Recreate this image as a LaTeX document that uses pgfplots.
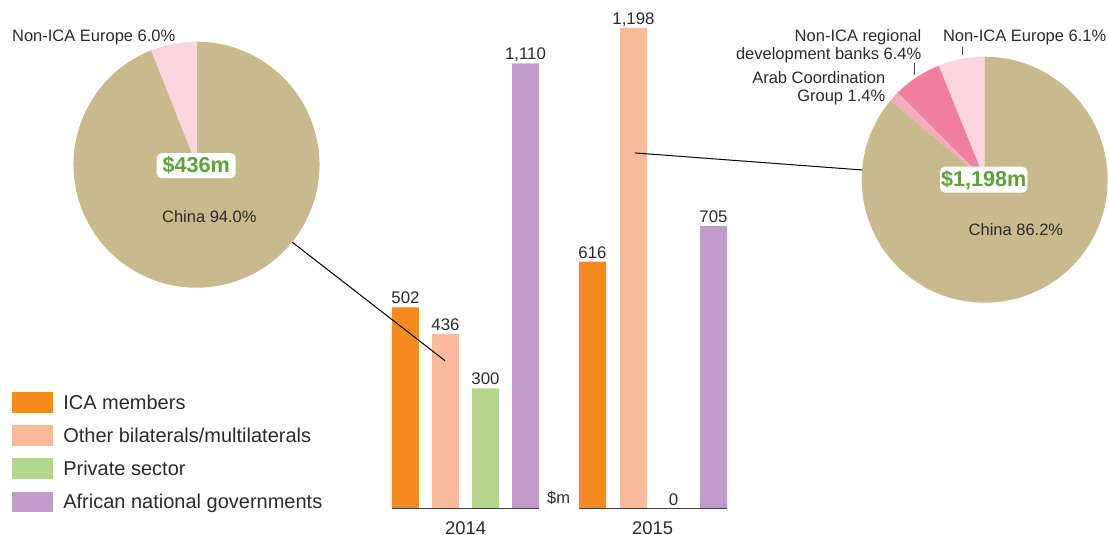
\documentclass[border=0pt]{standalone}
\usepackage{pgfplots}
\pgfplotsset{compat=1.18}
\usepackage{fontspec}
\setmainfont{Liberation Sans}
\definecolor{ica}{HTML}{F58B1F}
\definecolor{oth}{HTML}{F9BA9A}
\definecolor{prv}{HTML}{B3D68C}
\definecolor{afr}{HTML}{C09BC9}
\definecolor{tan}{HTML}{C9BA8E}
\definecolor{lpink}{HTML}{FAD5DE}
\definecolor{dpink}{HTML}{F07F9E}
\definecolor{mpink}{HTML}{F4AABD}
\definecolor{gtxt}{HTML}{5DA13A}
\definecolor{txt}{HTML}{2B2B2B}
\def\px{0.5pt}
\begin{document}
\begin{tikzpicture}[every node/.style={text=txt}]
\path[use as bounding box] (0,0) rectangle (1109*\px,-535*\px);

% ---- left pie (2014 other bilaterals/multilaterals, $436m)
\begin{axis}[at={(196.5*\px,-164.7*\px)}, anchor=center, scale only axis,
  width=123pt, height=123pt, xmin=-1, xmax=1, ymin=-1, ymax=1, hide axis, clip=false]
\fill[tan] (axis cs:0,0) -- ++(90+3.6*6.0:61.5pt) arc[start angle=90+3.6*6.0, end angle=450, radius=61.5pt] -- cycle;
\fill[lpink] (axis cs:0,0) -- ++(90:61.5pt) arc[start angle=90, end angle=90+3.6*6.0, radius=61.5pt] -- cycle;
\end{axis}

% ---- right pie (2015, $1,198m)
\begin{axis}[at={(984.7*\px,-179.7*\px)}, anchor=center, scale only axis,
  width=123pt, height=123pt, xmin=-1, xmax=1, ymin=-1, ymax=1, hide axis, clip=false]
\fill[lpink] (axis cs:0,0) -- ++(90:61.5pt) arc[start angle=90, end angle=90+3.6*6.1, radius=61.5pt] -- cycle;
\fill[dpink] (axis cs:0,0) -- ++(90+3.6*6.1:61.5pt) arc[start angle=90+3.6*6.1, end angle=90+3.6*12.5, radius=61.5pt] -- cycle;
\fill[mpink] (axis cs:0,0) -- ++(90+3.6*12.5:61.5pt) arc[start angle=90+3.6*12.5, end angle=90+3.6*13.9, radius=61.5pt] -- cycle;
\fill[tan] (axis cs:0,0) -- ++(90+3.6*13.9:61.5pt) arc[start angle=90+3.6*13.9, end angle=450, radius=61.5pt] -- cycle;
\end{axis}

% ---- bars
\begin{axis}[at={(392*\px,-508.7*\px)}, anchor=south west, scale only axis,
  width=167.5pt, height=240.35pt,
  xmin=392, xmax=727, ymin=0, ymax=1198,
  hide axis, clip=false,
  ybar, bar width=13.5pt,
  legsq/.style={legend image code/.code={\fill[#1] (0pt,-5.175pt) rectangle (20.5pt,5.175pt);}},
  every axis plot/.append style={draw=none, bar shift=0pt},
  /pgf/number format/1000 sep={,},
  /pgf/number format/assume math mode=true,
  nodes near coords,
  every node near coord/.append style={font=\fontsize{8.4}{9}\selectfont, text=txt, inner sep=0pt, anchor=base, yshift=1.7pt},
  legend style={at={(axis description cs:-1.13433,0.24277)}, anchor=north west,
    draw=none, fill=none, inner sep=0pt, outer sep=0pt,
    font=\fontsize{10}{11}\selectfont, text=txt,
    row sep=6.25pt,
    nodes={inner sep=0pt, text height=8.65pt, text depth=1.7pt},
    /tikz/every odd column/.style={column sep=5.15pt}},
  legend cell align=left,
]
\addplot[fill=ica, legsq=ica] coordinates {(405.5,502) (592.5,616)};
\addlegendentry{ICA members}
\addplot[fill=oth, legsq=oth] coordinates {(445.5,436) (633.5,1198)};
\addlegendentry{Other bilaterals/multilaterals}
\addplot[fill=prv, legsq=prv] coordinates {(485.5,300) (673.5,0)};
\addlegendentry{Private sector}
\addplot[fill=afr, legsq=afr] coordinates {(525.5,1110) (713.5,705)};
\addlegendentry{African national governments}
\draw[color=black!75, line width=0.7pt] (axis cs:392,0) -- (axis cs:539,0);
\draw[color=black!75, line width=0.7pt] (axis cs:579,0) -- (axis cs:727,0);
\draw[black, line width=0.5pt] (axis cs:292.3,664) -- (axis cs:445,368.9);
\draw[black, line width=0.5pt] (axis cs:635,886.6) -- (axis cs:862,844.2);
\end{axis}

% ---- text
\begin{scope}[every node/.style={text=txt, inner sep=0pt, font=\fontsize{8.25}{10}\selectfont}]
\node[anchor=base west] at (11.7*\px,-41.7*\px) {Non-ICA Europe 6.0\%};
\node[anchor=base west] at (161.7*\px,-222.7*\px) {China 94.0\%};
\node[anchor=base east] at (921.7*\px,-41.7*\px) {Non-ICA regional};
\node[anchor=base east] at (921.7*\px,-60*\px) {development banks 6.4\%};
\node[anchor=base east] at (1106.7*\px,-41.7*\px) {Non-ICA Europe 6.1\%};
\node[anchor=base east] at (885.7*\px,-83.3*\px) {Arab Coordination};
\node[anchor=base east] at (885.7*\px,-101.7*\px) {Group 1.4\%};
\node[anchor=base west] at (968.3*\px,-235*\px) {China 86.2\%};
\node[anchor=base west] at (546.7*\px,-503.3*\px) {\$m};
\node[anchor=base, font=\fontsize{9.2}{11}\selectfont] at (465.7*\px,-534*\px) {2014};
\node[anchor=base, font=\fontsize{9.2}{11}\selectfont] at (652.7*\px,-534*\px) {2015};
\end{scope}
\draw[black!70, line width=0.5pt] (914*\px,-63.3*\px) -- (914*\px,-75*\px);
\draw[black!70, line width=0.5pt] (962.7*\px,-46.7*\px) -- (962.7*\px,-55*\px);
\node[fill=white, rounded corners=2.5pt, minimum width=39.5pt, minimum height=12.5pt, inner sep=0pt,
  text=gtxt, font=\bfseries\fontsize{10.8}{12}\selectfont] at (196.2*\px,-165.7*\px) {\$436m};
\node[fill=white, rounded corners=2.5pt, minimum width=43.65pt, minimum height=13pt, inner sep=0pt,
  text=gtxt, font=\bfseries\fontsize{10.8}{12}\selectfont] at (983.7*\px,-179.7*\px) {\$1,198m};
\end{tikzpicture}
\end{document}
